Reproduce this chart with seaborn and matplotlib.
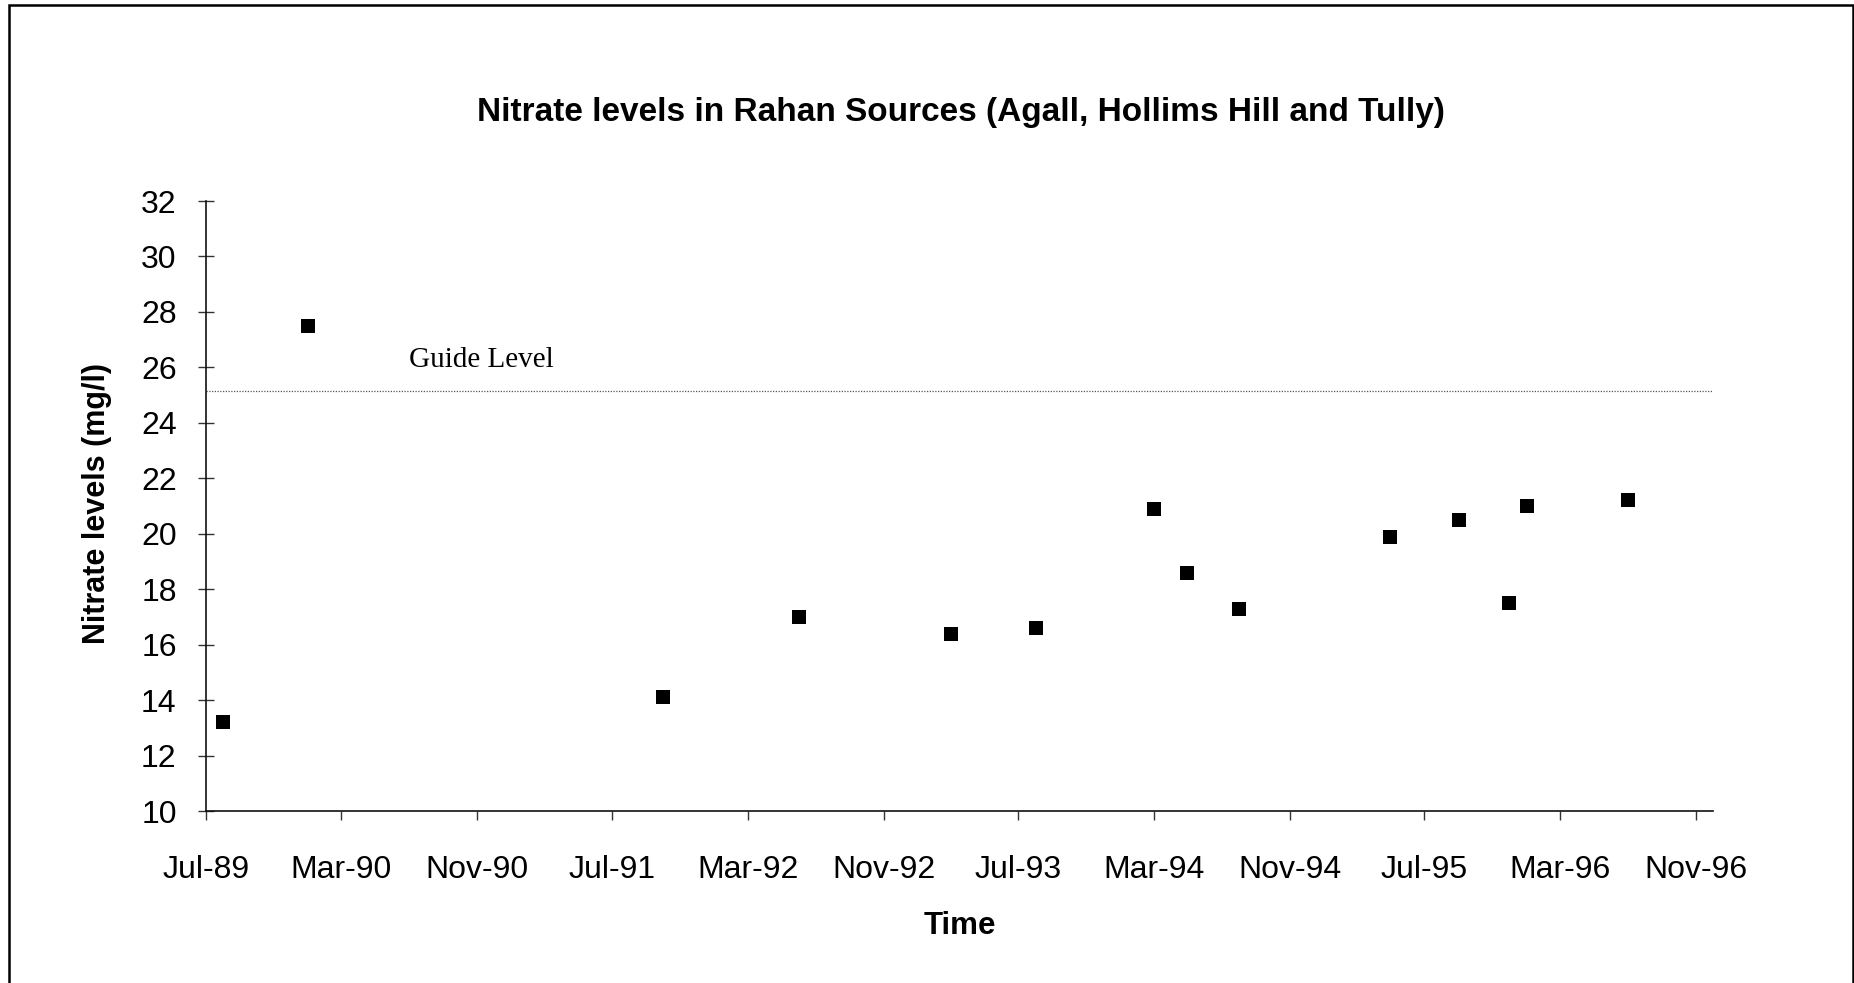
import matplotlib
matplotlib.use("Agg")
import matplotlib.pyplot as plt
import matplotlib.dates as mdates
from matplotlib.patches import Rectangle
import seaborn as sns
import pandas as pd

# ---- data ----
sample_dates = ["1989-08-01", "1990-01-01", "1991-10-01", "1992-06-01", "1993-03-01",
                "1993-08-01", "1994-03-01", "1994-05-01", "1994-08-01", "1995-05-01",
                "1995-09-01", "1995-12-01", "1996-01-01", "1996-07-01"]
nitrate_values = [13.2, 27.5, 14.1, 17.0, 16.4, 16.6, 20.9, 18.6, 17.3, 19.9,
                  20.5, 17.5, 21.0, 21.2]
guide_level = 25.15
tick_dates = ["1989-07-01", "1990-03-01", "1990-11-01", "1991-07-01", "1992-03-01",
              "1992-11-01", "1993-07-01", "1994-03-01", "1994-11-01", "1995-07-01",
              "1996-03-01", "1996-11-01"]
y_ticks = [10, 12, 14, 16, 18, 20, 22, 24, 26, 28, 30, 32]

title_text = "Nitrate levels in Rahan Sources (Agall, Hollims Hill and Tully)"
x_label = "Time"
y_label = "Nitrate levels (mg/l)"
guide_text = "Guide Level"

df = pd.DataFrame({"date": pd.to_datetime(sample_dates), "nitrate": nitrate_values})

sns.set_theme(style="white")
plt.rcParams["font.family"] = ["Liberation Sans", "DejaVu Sans"]
plt.rcParams["text.color"] = "black"

W, H = 1854, 983
fig = plt.figure(figsize=(W / 100, H / 100), dpi=100)
fig.patch.set_facecolor("white")
ax = fig.add_axes([206 / W, 1 - 811 / H, (1713 - 206) / W, (811 - 201) / H])

sns.scatterplot(data=df, x="date", y="nitrate", ax=ax, marker="s", s=100,
                color="black", linewidth=0, zorder=3, legend=False)

ax.axhline(guide_level, color="#555555", linestyle=(0, (1, 1.2)), linewidth=0.9, zorder=2)
ax.text(pd.Timestamp("1990-07-01"), 26.02, guide_text, family="Liberation Serif",
        fontsize=21, color="black", ha="left", va="baseline")

ax.set_xlim(pd.Timestamp("1989-07-01"), pd.Timestamp("1996-12-01"))
ax.set_ylim(10, 32)
ax.set_xticks(pd.to_datetime(tick_dates))
ax.xaxis.set_major_formatter(mdates.DateFormatter("%b-%y"))
ax.set_yticks(y_ticks)

ax.set_xlabel("")
ax.set_ylabel("")
for side in ["top", "right"]:
    ax.spines[side].set_visible(False)
for side in ["left", "bottom"]:
    ax.spines[side].set_color("#111111")
    ax.spines[side].set_linewidth(1.2)

ax.tick_params(axis="y", direction="inout", length=12.2, width=1.0, color="#333333",
               pad=15, labelsize=23, labelcolor="black", left=True)
ax.tick_params(axis="x", direction="out", length=6.5, width=1.0, color="#333333",
               pad=25.5, labelsize=23, labelcolor="black", bottom=True)
ax.grid(False)

fig.text(961 / W, 1 - 121.5 / H, title_text, ha="center", va="baseline",
         fontsize=24, fontweight="bold", color="black")
fig.text(960 / W, 1 - 934 / H, x_label, ha="center", va="baseline",
         fontsize=22.5, fontweight="bold", color="black")
fig.text(97 / W, 1 - 504 / H, y_label, ha="center", va="center", rotation=90,
         fontsize=22, fontweight="bold", color="black")

fig.patches.append(Rectangle((9 / W, -0.05), (1853 - 9) / W, 1 - 5 / H + 0.05,
                             transform=fig.transFigure, fill=False,
                             edgecolor="black", linewidth=1.8))

fig.savefig("out.png", dpi=100, facecolor="white")
